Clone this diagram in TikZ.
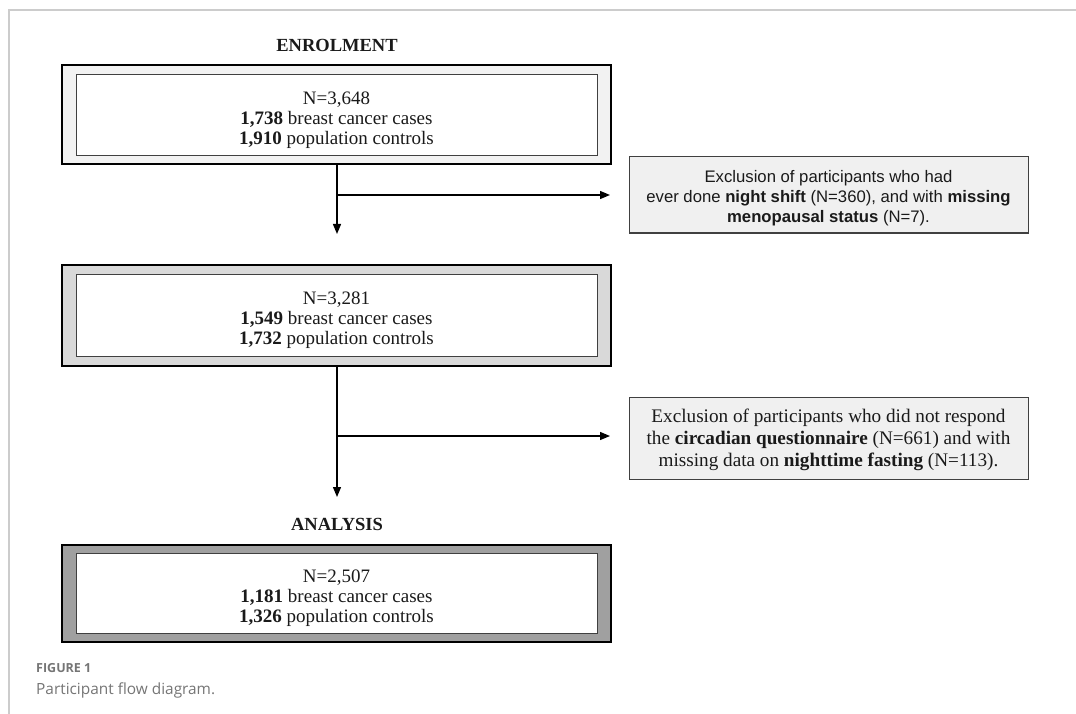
\documentclass[tikz,border=0pt]{standalone}
\usepackage{fontspec}
\setmainfont{Liberation Serif}
\newfontfamily\arialfont{Liberation Sans}
\newfontfamily\capfont{Open Sans}
\usetikzlibrary{arrows.meta}
\definecolor{band1}{HTML}{F2F2F2}
\definecolor{band2}{HTML}{D9D9D9}
\definecolor{band3}{HTML}{A0A0A0}
\definecolor{exfill}{HTML}{F0F0F0}
\definecolor{framegray}{HTML}{CCCCCC}
\definecolor{capgray}{HTML}{757575}
\definecolor{ink}{HTML}{1A1A1A}
\begin{document}
\begin{tikzpicture}[x=1pt,y=-1pt,
  outerbox/.style={draw=black,line width=1.5pt,minimum width=549pt,inner sep=0pt},
  innerbox/.style={draw=black!75,line width=1pt,fill=white,minimum width=521pt,inner sep=0pt},
  boxtext/.style={inner sep=0pt,align=center,text=ink,font=\fontsize{19}{19.8}\selectfont},
  exbox/.style={draw=black!75,line width=1pt,fill=exfill,minimum width=399pt,inner sep=0pt},
  extext/.style={inner sep=0pt,align=center,text=ink},
  heading/.style={font=\fontsize{18.5}{20}\selectfont\bfseries,text=ink},
  flow/.style={line width=1.3pt,-{Triangle[length=10pt,width=8pt]}}]
\useasboundingbox (0,0) rectangle (1076,714);
% page frame
\draw[framegray,line width=1.5pt] (9,714) -- (9,10) -- (1076,10);
% headings
\node[heading] (enrol) at (337,45) {ENROLMENT};
\node[heading] (anal) at (337,524) {ANALYSIS};
% box 1
\node[outerbox,fill=band1,minimum height=99pt] (b1) at (336.5,114.5) {};
\node[innerbox,minimum height=81pt] (b1i) at (336.5,115.5) {};
\node[boxtext] (b1t) at (336.5,120) {N=3,648\\\textbf{1,738} breast cancer cases\\\textbf{1,910} population controls};
% box 2
\node[outerbox,fill=band2,minimum height=101pt] (b2) at (336.5,315.5) {};
\node[innerbox,minimum height=82pt] (b2i) at (336.5,315) {};
\node[boxtext] (b2t) at (336.5,320) {N=3,281\\\textbf{1,549} breast cancer cases\\\textbf{1,732} population controls};
% box 3
\node[outerbox,fill=band3,minimum height=97pt] (b3) at (336.5,593.5) {};
\node[innerbox,minimum height=80pt] (b3i) at (336.5,593) {};
\node[boxtext] (b3t) at (336.5,598) {N=2,507\\\textbf{1,181} breast cancer cases\\\textbf{1,326} population controls};
% exclusion boxes
\node[exbox,minimum height=76pt] (ex1) at (828.5,195) {};
\node[extext,font=\arialfont\fontsize{16.7}{20}\selectfont] (ex1t) at (828.5,198)
  {Exclusion of participants who had\\ever done \textbf{night shift} (N=360), and with \textbf{missing}\\\textbf{menopausal status} (N=7).};
\node[exbox,minimum height=82pt] (ex2) at (828.5,438) {};
\node[extext,font=\fontsize{19.2}{22}\selectfont] (ex2t) at (828.5,440)
  {Exclusion of participants who did not respond\\the \textbf{circadian questionnaire} (N=661) and with\\missing data on \textbf{nighttime fasting} (N=113).};
% connectors
\coordinate (v1end) at (337,234);
\coordinate (h1) at (337,195);
\coordinate (h1end) at (610,195);
\coordinate (v2end) at (337,497);
\coordinate (h2) at (337,436);
\coordinate (h2end) at (610,436);
\draw[flow] (b1.south -| v1end) -- (v1end);
\draw[flow] (h1) -- (h1end);
\draw[flow] (b2.south -| v2end) -- (v2end);
\draw[flow] (h2) -- (h2end);
% caption
\node[anchor=base west,inner sep=0pt,text=capgray,font=\capfont\fontsize{12.5}{14}\selectfont\bfseries] (fig) at (36,672) {FIGURE 1};
\node[anchor=base west,inner sep=0pt,text=capgray,font=\capfont\fontsize{15.4}{18}\selectfont] (cap) at (36,694) {Participant flow diagram.};
\end{tikzpicture}
\end{document}
